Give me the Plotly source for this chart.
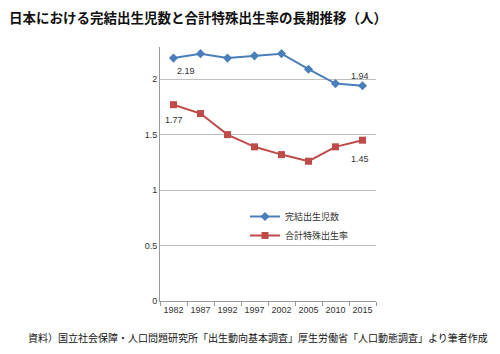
import plotly.graph_objects as go

years = ["1982", "1987", "1992", "1997", "2002", "2005", "2010", "2015"]
completed = [2.19, 2.23, 2.19, 2.21, 2.23, 2.09, 1.96, 1.94]
tfr = [1.77, 1.69, 1.50, 1.39, 1.32, 1.26, 1.39, 1.45]
name_completed = "完結出生児数"
name_tfr = "合計特殊出生率"
title = "日本における完結出生児数と合計特殊出生率の長期推移（人）"
source = "資料）国立社会保障・人口問題研究所「出生動向基本調査」厚生労働省「人口動態調査」より筆者作成"

font_cjk = "Noto Sans CJK JP"
font_num = "Liberation Sans, Arial"
blue = "#4A7EBB"
red = "#BE4B48"

fig = go.Figure()
fig.add_trace(go.Scatter(x=years, y=completed, name=name_completed, mode="lines+markers",
                         line=dict(color=blue, width=2),
                         marker=dict(symbol="diamond", size=7, color=blue)))
fig.add_trace(go.Scatter(x=years, y=tfr, name=name_tfr, mode="lines+markers",
                         line=dict(color=red, width=2),
                         marker=dict(symbol="square", size=7, color=red)))

# data labels on first and last points: (category index, value, xshift, yshift)
last = len(years) - 1
labels = [
    (0, completed[0], 12, -13),
    (last, completed[last], -3, 10),
    (0, tfr[0], 0, -15),
    (last, tfr[last], -3, -19),
]
for i, y, dx, dy in labels:
    fig.add_annotation(x=i, y=y, xref="x", yref="y", text=f"{y:.2f}", showarrow=False,
                       xshift=dx, yshift=dy,
                       font=dict(family=font_num, size=9, color="#333333"))

fig.add_annotation(text=f"<b>{title}</b>", xref="paper", yref="paper",
                   x=-153/216, y=(301-17)/254, xanchor="left", yanchor="middle",
                   showarrow=False, font=dict(family=font_cjk, size=13.5, color="#111111"))
fig.add_annotation(text=source, xref="paper", yref="paper",
                   x=(258-160)/216, y=-(337-301)/254, xanchor="center", yanchor="middle",
                   showarrow=False, font=dict(family=font_cjk, size=10, color="#111111"))

fig.update_layout(
    width=500, height=354,
    margin=dict(l=160, r=124, t=47, b=53),
    paper_bgcolor="white", plot_bgcolor="white",
    showlegend=True,
    legend=dict(x=(245-160)/216, y=(301-202)/254, xanchor="left", yanchor="top",
                font=dict(family=font_cjk, size=9, color="#333333"),
                bgcolor="rgba(0,0,0,0)", tracegroupgap=0, itemwidth=30),
)

fig.update_xaxes(type="category", range=[-0.5, 7.5], tickson="boundaries", tickangle=0,
                 ticks="outside", ticklen=4, tickcolor="#999999",
                 showline=True, linecolor="#999999", linewidth=1, showgrid=False,
                 tickfont=dict(family=font_num, size=9, color="#333333"))
fig.update_yaxes(range=[0, 2.29], tickvals=[0, 0.5, 1, 1.5, 2], ticktext=["0", "0.5", "1", "1.5", "2"],
                 showgrid=True, gridcolor="#BFBFBF", gridwidth=1,
                 showline=True, linecolor="#999999", linewidth=1,
                 ticks="", zeroline=False,
                 tickfont=dict(family=font_num, size=9, color="#333333"))

fig.write_html("out.html")
